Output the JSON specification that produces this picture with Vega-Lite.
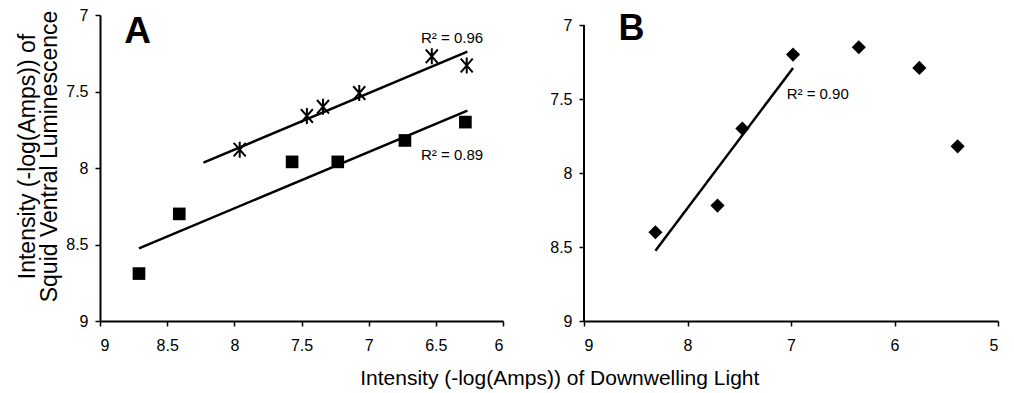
{
  "$schema": "https://vega.github.io/schema/vega-lite/v6.json",
  "padding": {"left": 16, "top": 7, "right": 5, "bottom": 0},
  "bounds": "flush",
  "spacing": 81,
  "config": {
    "view": {"stroke": null},
    "font": "Liberation Sans",
    "axis": {
      "grid": false,
      "domainColor": "black",
      "domainWidth": 2,
      "tickColor": "black",
      "tickWidth": 1.5,
      "tickSize": 5,
      "labelFont": "Liberation Sans",
      "labelFontSize": 16,
      "labelColor": "black",
      "titleFont": "Liberation Sans",
      "titleFontSize": 23,
      "titleFontWeight": "normal",
      "titleColor": "black"
    },
    "axisX": {"labelPadding": 11},
    "axisY": {"labelPadding": 7}
  },
  "title": {
    "text": "Intensity (-log(Amps)) of Downwelling Light",
    "orient": "bottom",
    "anchor": "middle",
    "fontSize": 21,
    "fontWeight": "normal",
    "font": "Liberation Sans",
    "color": "black",
    "offset": 15,
    "dx": 52
  },
  "datasets": {
    "squares": [
      {"x": 8.71, "y": 8.69}, {"x": 8.41, "y": 8.30}, {"x": 7.57, "y": 7.96},
      {"x": 7.23, "y": 7.96}, {"x": 6.73, "y": 7.82}, {"x": 6.28, "y": 7.70}
    ],
    "stars": [
      {"x": 7.96, "y": 7.88}, {"x": 7.46, "y": 7.66}, {"x": 7.34, "y": 7.60},
      {"x": 7.07, "y": 7.51}, {"x": 6.53, "y": 7.27}, {"x": 6.27, "y": 7.33}
    ],
    "trendA": [
      {"series": "stars", "x": 8.23, "y": 7.965}, {"series": "stars", "x": 6.265, "y": 7.24},
      {"series": "squares", "x": 8.71, "y": 8.525}, {"series": "squares", "x": 6.265, "y": 7.625}
    ],
    "labelsA": [
      {"x": 6.379, "y": 7.148, "text": "R² = 0.96"},
      {"x": 6.379, "y": 7.915, "text": "R² = 0.89"}
    ],
    "panelA": [{"x": 8.72, "y": 7.183, "text": "A"}],
    "diamonds": [
      {"x": 8.31, "y": 8.40}, {"x": 7.71, "y": 8.22}, {"x": 7.47, "y": 7.70},
      {"x": 6.98, "y": 7.20}, {"x": 6.345, "y": 7.15}, {"x": 5.76, "y": 7.29},
      {"x": 5.39, "y": 7.82}
    ],
    "trendB": [{"x": 8.31, "y": 8.525}, {"x": 6.98, "y": 7.29}],
    "labelsB": [{"x": 6.742, "y": 7.466, "text": "R² = 0.90"}],
    "panelB": [{"x": 8.54, "y": 7.10, "text": "B"}],
    "axisB": [{"x": 9, "y": 7, "y2": 9}]
  },
  "hconcat": [
    {
      "width": 403,
      "height": 306,
      "encoding": {
        "x": {
          "field": "x", "type": "quantitative",
          "scale": {"domain": [6, 9], "reverse": true, "nice": false, "zero": false},
          "axis": {"title": null, "values": [9, 8.5, 8, 7.5, 7, 6.5, 6], "format": "~g"}
        },
        "y": {
          "field": "y", "type": "quantitative",
          "scale": {"domain": [7, 9], "reverse": true, "nice": false, "zero": false},
          "axis": {
            "title": ["Intensity (-log(Amps)) of", "Squid Ventral Luminescence"],
            "values": [7, 7.5, 8, 8.5, 9], "format": "~g",
            "titlePadding": 4, "titleLineHeight": 22, "titleY": 141
          }
        }
      },
      "layer": [
        {
          "data": {"name": "trendA"},
          "mark": {"type": "line", "color": "black", "strokeWidth": 2.5, "clip": false},
          "encoding": {"detail": {"field": "series"}}
        },
        {
          "data": {"name": "squares"},
          "mark": {"type": "point", "shape": "square", "filled": true, "color": "black", "size": 160, "opacity": 1}
        },
        {
          "data": {"name": "stars"},
          "mark": {"type": "point", "shape": "M0,-1L0,1M-0.75,-0.85L0.75,0.85M-0.75,0.85L0.75,-0.85", "filled": false, "color": "black", "strokeWidth": 2, "size": 256, "opacity": 1}
        },
        {
          "data": {"name": "labelsA"},
          "mark": {"type": "text", "fontSize": 15, "color": "black", "align": "center", "baseline": "middle"},
          "encoding": {"text": {"field": "text"}}
        },
        {
          "data": {"name": "panelA"},
          "mark": {"type": "text", "fontSize": 37, "fontWeight": "bold", "font": "Liberation Sans", "color": "black", "align": "center", "baseline": "alphabetic"},
          "encoding": {"text": {"field": "text"}}
        }
      ]
    },
    {
      "width": 414,
      "height": 306,
      "encoding": {
        "x": {
          "field": "x", "type": "quantitative",
          "scale": {"domain": [5, 9], "reverse": true, "nice": false, "zero": false},
          "axis": {"title": null, "values": [9, 8, 7, 6, 5], "format": "~g"}
        },
        "y": {
          "field": "y", "type": "quantitative",
          "scale": {"domain": [6.9324, 9], "reverse": true, "nice": false, "zero": false},
          "axis": {"title": null, "values": [7, 7.5, 8, 8.5, 9], "format": "~g", "domain": false}
        }
      },
      "layer": [
        {
          "data": {"name": "axisB"},
          "mark": {"type": "rule", "color": "black", "strokeWidth": 2},
          "encoding": {"y2": {"field": "y2"}}
        },
        {
          "data": {"name": "trendB"},
          "mark": {"type": "line", "color": "black", "strokeWidth": 2.5}
        },
        {
          "data": {"name": "diamonds"},
          "mark": {"type": "point", "shape": "diamond", "filled": true, "color": "black", "size": 200, "opacity": 1}
        },
        {
          "data": {"name": "labelsB"},
          "mark": {"type": "text", "fontSize": 15, "color": "black", "align": "center", "baseline": "middle"},
          "encoding": {"text": {"field": "text"}}
        },
        {
          "data": {"name": "panelB"},
          "mark": {"type": "text", "fontSize": 36, "fontWeight": "bold", "font": "Liberation Sans", "color": "black", "align": "center", "baseline": "alphabetic"},
          "encoding": {"text": {"field": "text"}}
        }
      ]
    }
  ]
}
